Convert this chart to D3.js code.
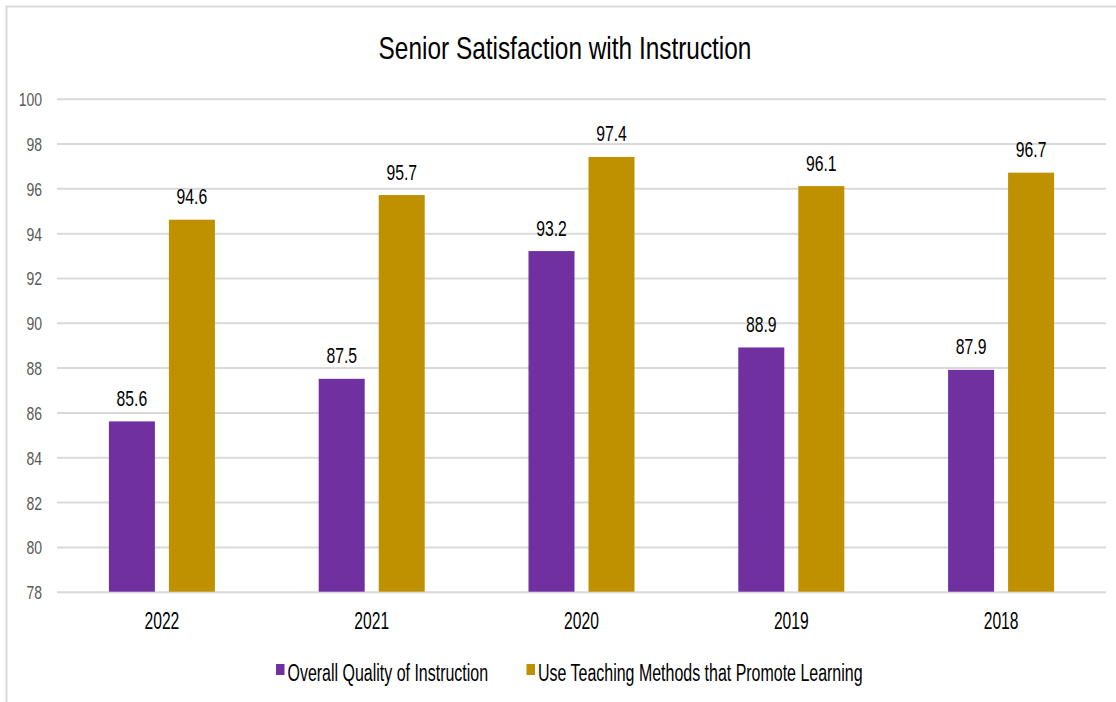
<!DOCTYPE html>
<html>
<head>
<meta charset="utf-8">
<script src="https://cdn.jsdelivr.net/npm/d3@7"></script>
<style>
  body { margin: 0; background: #fff; }
  svg text { font-family: "Liberation Sans", Arial, sans-serif; }
</style>
</head>
<body>
<svg width="1116" height="702"></svg>
<script>
// Chart data
var years = ['2022', '2021', '2020', '2019', '2018'];
var seriesNames = ['Overall Quality of Instruction', 'Use Teaching Methods that Promote Learning'];
var overallQuality = [85.6, 87.5, 93.2, 88.9, 87.9];
var teachingMethods = [94.6, 95.7, 97.4, 96.1, 96.7];
var yTicks = [78, 80, 82, 84, 86, 88, 90, 92, 94, 96, 98, 100];
var colors = ['#7030A0', '#BF9000'];

// Plot area
var margin = {top: 98.7, left: 57};
var width = 1106 - margin.left;
var height = 591.7 - margin.top;

var svg = d3.select('svg');

// Outer border of the chart
svg.append('rect')
  .attr('x', 6.5).attr('y', 6.5)
  .attr('width', 1116).attr('height', 702)
  .attr('fill', 'none')
  .attr('stroke', '#d9d9d9')
  .attr('stroke-width', 2);

var chart = svg.append('g')
  .attr('transform', 'translate(' + margin.left + ',' + margin.top + ')');

var x = d3.scaleBand().domain(years).range([0, width]);
var y = d3.scaleLinear().domain([78, 100]).range([height, 0]);

// Gridlines and y labels (text is squeezed to mimic the narrow font)
var yAxis = d3.axisLeft(y).tickValues(yTicks).tickSize(-width);
var yg = chart.append('g').call(yAxis);
yg.select('.domain').remove();
yg.selectAll('.tick line').attr('stroke', '#d9d9d9').attr('stroke-width', 2);
yg.selectAll('.tick text')
  .attr('fill', '#595959')
  .attr('font-size', 17.7)
  .attr('text-anchor', 'end')
  .attr('x', 0).attr('dy', null).attr('y', 0)
  .attr('transform', 'translate(-15,7) scale(0.79,1)');

// Category labels
var xAxis = d3.axisBottom(x).tickSize(0);
var xg = chart.append('g').attr('transform', 'translate(0,' + height + ')').call(xAxis);
xg.select('.domain').remove();
xg.selectAll('.tick text')
  .attr('fill', '#000')
  .attr('font-size', 23)
  .attr('y', 0).attr('dy', null)
  .attr('transform', 'translate(0,37) scale(0.68,1)');

// Bars
var barW = 46, gap = 14;
var data = years.map((yr, i) => ({year: yr, values: [overallQuality[i], teachingMethods[i]]}));

var groups = chart.selectAll('.grp')
  .data(data).enter()
  .append('g')
  .attr('transform', d => 'translate(' + (x(d.year) + x.bandwidth() / 2) + ',0)');

groups.selectAll('rect')
  .data(d => d.values).enter()
  .append('rect')
  .attr('x', (d, i) => i === 0 ? -gap / 2 - barW : gap / 2)
  .attr('y', d => y(d))
  .attr('width', barW)
  .attr('height', d => height - y(d))
  .attr('fill', (d, i) => colors[i]);

groups.selectAll('.lbl')
  .data(d => d.values).enter()
  .append('text')
  .attr('transform', (d, i) => 'translate(' + (i === 0 ? -gap / 2 - barW / 2 : gap / 2 + barW / 2) + ',' + (y(d) - 15.5) + ') scale(0.7,1)')
  .attr('text-anchor', 'middle')
  .attr('font-size', 22.5)
  .attr('fill', '#000')
  .text(d => d.toFixed(1));

// Title
svg.append('text')
  .attr('transform', 'translate(565,58.5) scale(0.8,1)')
  .attr('text-anchor', 'middle')
  .attr('font-size', 30.5)
  .attr('fill', '#000')
  .text('Senior Satisfaction with Instruction');

// Legend
var legendX = [276, 526.5];
var legend = svg.selectAll('.legend')
  .data(seriesNames).enter()
  .append('g')
  .attr('transform', (d, i) => 'translate(' + legendX[i] + ',664)');
legend.append('rect')
  .attr('width', 8.5).attr('height', 11)
  .attr('fill', (d, i) => colors[i]);
legend.append('text')
  .attr('transform', 'translate(11.5,16.5) scale(0.68,1)')
  .attr('font-size', 23.5)
  .attr('fill', '#000')
  .text(d => d);
</script>
</body>
</html>
